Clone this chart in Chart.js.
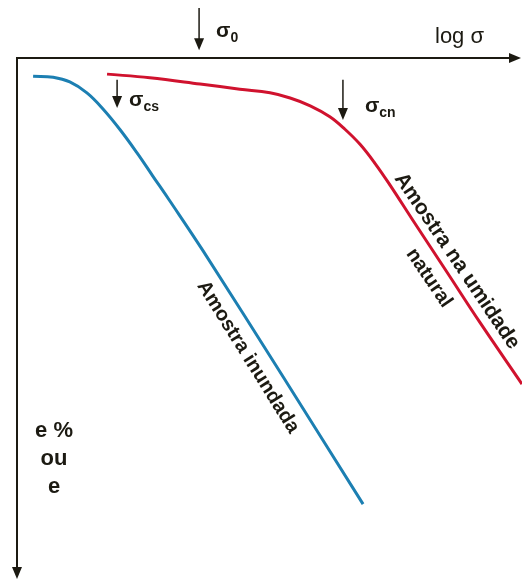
<!DOCTYPE html>
<html>
<head>
<meta charset="utf-8">
<script src="https://cdn.jsdelivr.net/npm/chart.js@4.4.1/dist/chart.umd.min.js"></script>
<style>
    html, body { margin: 0; padding: 0; background: #fff; }
    #wrap { width: 522px; height: 580px; position: relative; }
</style>
</head>
<body>
<div id="wrap"><canvas id="curveChart"></canvas></div>
<script>
// log sigma (x) vs e (y), arbitrary units
const inundadaX = [0.32, 0.72, 1.05, 1.39, 1.71, 2.05, 2.39, 2.70, 3.04, 3.70, 5.29, 6.88];
const inundadaY = [9.65, 9.63, 9.54, 9.33, 9.02, 8.62, 8.17, 7.73, 7.25, 6.29, 3.87, 1.42];

const naturalX = [1.79, 2.64, 3.64, 4.43, 5.03, 5.43, 5.83, 6.22, 6.52, 6.82, 7.12, 7.42, 7.87, 8.55, 9.20, 10.04];
const naturalY = [9.69, 9.62, 9.50, 9.40, 9.33, 9.23, 9.08, 8.87, 8.63, 8.34, 7.97, 7.55, 6.88, 5.88, 4.92, 3.73];

// stress markers (sigma_0, sigma_cs, sigma_cn)
const markerSubs = ['0', 'cs', 'cn'];
const markerX = [3.62, 1.99, 6.48];
const markerFrom = [10.96, 9.58, 9.58];
const markerTo = [10.15, 9.04, 8.81];

const FONT = '"Liberation Sans", Arial, sans-serif';
const INK = '#1c1a12';

const toPoints = (xs, ys) => xs.map((v, i) => ({ x: v, y: ys[i] }));

function arrowHead(ctx, x, y, dir) {
    // dir: 'down' or 'right', tip at (x, y)
    ctx.beginPath();
    if (dir === 'down') {
        ctx.moveTo(x, y);
        ctx.lineTo(x - 5, y - 12);
        ctx.lineTo(x + 5, y - 12);
    } else {
        ctx.moveTo(x, y);
        ctx.lineTo(x - 12, y - 5);
        ctx.lineTo(x - 12, y + 5);
    }
    ctx.closePath();
    ctx.fill();
}

function rotatedText(ctx, text, cx, cy, deg, font) {
    ctx.save();
    ctx.translate(cx, cy);
    ctx.rotate(deg * Math.PI / 180);
    ctx.font = font;
    ctx.textAlign = 'center';
    ctx.textBaseline = 'middle';
    ctx.fillText(text, 0, 0);
    ctx.restore();
}

const sketchPlugin = {
    id: 'sketch',
    afterDraw(chart) {
        const { ctx, chartArea: a, scales: { x, y } } = chart;
        ctx.save();
        ctx.strokeStyle = INK;
        ctx.fillStyle = INK;

        // axes: log sigma to the right, e downward
        ctx.lineWidth = 2;
        ctx.beginPath();
        ctx.moveTo(a.right - 6, a.top);
        ctx.lineTo(a.left, a.top);
        ctx.lineTo(a.left, a.bottom - 6);
        ctx.stroke();
        arrowHead(ctx, a.right - 1, a.top, 'right');
        arrowHead(ctx, a.left, a.bottom + 1, 'down');

        // sigma markers
        const labelDx = [17, 12, 22];
        const labelDy = [0, 4, 4];
        markerX.forEach((mx, i) => {
            const px = x.getPixelForValue(mx);
            const y0 = y.getPixelForValue(markerFrom[i]);
            const y1 = y.getPixelForValue(markerTo[i]);
            ctx.lineWidth = 1.5;
            ctx.beginPath();
            ctx.moveTo(px, y0);
            ctx.lineTo(px, y1 - 10);
            ctx.stroke();
            arrowHead(ctx, px, y1, 'down');

            const tx = px + labelDx[i];
            const base = (y0 + y1) / 2 + 8 + labelDy[i];
            ctx.textAlign = 'left';
            ctx.textBaseline = 'alphabetic';
            ctx.font = 'bold 21px ' + FONT;
            ctx.fillText('σ', tx, base);
            const w = ctx.measureText('σ').width;
            ctx.font = 'bold 14px ' + FONT;
            ctx.fillText(markerSubs[i], tx + w, base + 5);
        });

        // axis titles
        ctx.font = '22px ' + FONT;
        ctx.textAlign = 'left';
        ctx.fillText('log σ', 435, 43);

        ctx.font = 'bold 22px ' + FONT;
        ctx.textAlign = 'center';
        ctx.fillText('e %', 54, 437);
        ctx.fillText('ou', 54, 465);
        ctx.fillText('e', 54, 493);

        // curve labels
        rotatedText(ctx, 'Amostra inundada', 248, 357, 58, 'bold 20px ' + FONT);
        rotatedText(ctx, 'Amostra na umidade', 457, 261, 56, 'bold 21px ' + FONT);
        rotatedText(ctx, 'natural', 429, 278, 56, 'bold 20px ' + FONT);

        ctx.restore();
    }
};

new Chart(document.getElementById('curveChart'), {
    type: 'line',
    data: {
        datasets: [
            {
                label: 'Amostra inundada',
                data: toPoints(inundadaX, inundadaY),
                borderColor: '#1c7fb2',
                borderWidth: 3,
                pointRadius: 0,
                tension: 0.4
            },
            {
                label: 'Amostra na umidade natural',
                data: toPoints(naturalX, naturalY),
                borderColor: '#d0122e',
                borderWidth: 3,
                pointRadius: 0,
                tension: 0.4
            }
        ]
    },
    options: {
        responsive: true,
        maintainAspectRatio: false,
        animation: false,
        layout: { padding: { left: 17, top: 58, right: 0, bottom: 2 } },
        plugins: {
            legend: { display: false },
            tooltip: { enabled: false }
        },
        scales: {
            x: { type: 'linear', min: 0, max: 10.04, display: false },
            y: { type: 'linear', min: 0, max: 10, display: false }
        }
    },
    plugins: [sketchPlugin]
});
</script>
</body>
</html>
